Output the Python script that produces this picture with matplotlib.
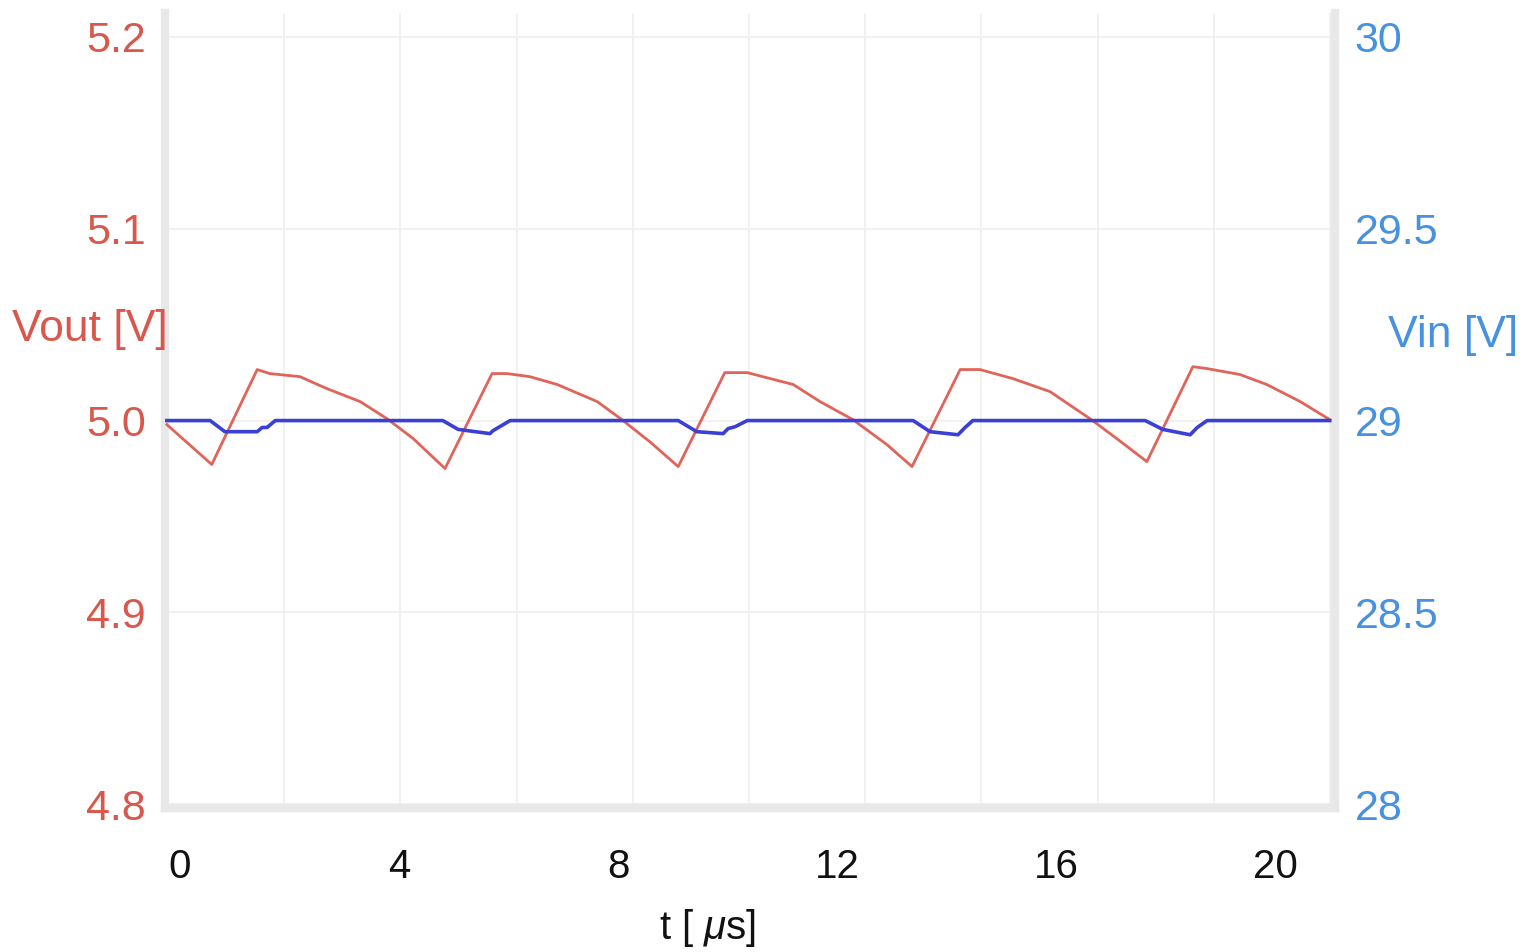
import matplotlib
matplotlib.use("Agg")
import matplotlib.pyplot as plt
import numpy as np

plt.rcParams['font.family'] = ['Liberation Sans', 'DejaVu Sans']
plt.rcParams['mathtext.fontset'] = 'custom'
plt.rcParams['mathtext.it'] = 'Liberation Sans:italic'
plt.rcParams['mathtext.rm'] = 'Liberation Sans'

# output voltage (left axis)
t_out = [-0.24, 0.58, 1.41, 1.64, 2.19, 2.68, 3.29, 3.78, 4.26, 4.84,
         5.70, 5.97, 6.39, 6.89, 7.62, 8.07, 8.58, 9.10,
         9.95, 10.36, 11.20, 11.69, 12.29, 12.91, 13.37,
         14.25, 14.61, 15.21, 15.89, 16.62, 17.11, 17.66,
         18.50, 18.76, 19.36, 19.85, 20.46, 21.00]
v_out = [4.9979, 4.9771, 5.0266, 5.0245, 5.0229, 5.0167, 5.0099, 5.0010, 4.9906, 4.9750,
         5.0245, 5.0245, 5.0229, 5.0188, 5.0099, 5.0005, 4.9890, 4.9760,
         5.0250, 5.0250, 5.0188, 5.0099, 5.0005, 4.9875, 4.9760,
         5.0266, 5.0266, 5.0219, 5.0151, 5.0010, 4.9906, 4.9786,
         5.0281, 5.0271, 5.0240, 5.0188, 5.0099, 5.0005]

# input voltage (right axis)
t_in = [-0.24, 0.55, 0.82, 1.41, 1.50, 1.59, 1.74,
        4.80, 5.08, 5.66, 5.72, 5.84, 6.03,
        9.10, 9.44, 9.92, 10.01, 10.14, 10.36,
        13.39, 13.70, 14.21, 14.34, 14.48,
        17.63, 17.95, 18.45, 18.58, 18.76, 21.00]
v_in = [29.0, 29.0, 28.971, 28.971, 28.982, 28.982, 29.0,
        29.0, 28.977, 28.966, 28.974, 28.984, 29.0,
        29.0, 28.971, 28.966, 28.979, 28.984, 29.0,
        29.0, 28.971, 28.963, 28.982, 29.0,
        29.0, 28.977, 28.963, 28.982, 29.0, 29.0]

x_ticks = [0, 4, 8, 12, 16, 20]
left_ticks = [4.8, 4.9, 5.0, 5.1, 5.2]
left_labels = ["4.8", "4.9", "5.0", "5.1", "5.2"]
right_ticks = [28, 28.5, 29, 29.5, 30]
right_labels = ["28", "28.5", "29", "29.5", "30"]

RED = "#e0645a"
RED_TXT = "#d9584d"
BLUE = "#3a40d4"
BLUE_TXT = "#4692e0"
FRAME = "#e8e8e8"
GRID = "#efefef"

fig = plt.figure(figsize=(15.27, 9.52), dpi=100)
ax = fig.add_axes([165 / 1527, 1 - 808 / 952, 1170 / 1527, 795 / 952])

y0, y1 = 4.798, 5.2125
ax.set_ylim(y0, y1)
ax.set_xlim((165 - 180) / 54.75, (1335 - 180) / 54.75)

# vertical grid: ten equal divisions, not tied to the labelled ticks
gx = np.linspace((168 - 180) / 54.75, (1330 - 180) / 54.75, 11)
ax.set_xticks(gx, minor=True)
ax.set_xticks(x_ticks)
ax.set_xticklabels([str(v) for v in x_ticks], fontsize=29, color="#111111")
ax.set_yticks(left_ticks)
ax.set_yticklabels(left_labels, fontsize=31, color=RED_TXT)
ax.tick_params(axis='x', which='both', length=0, pad=29)
ax.tick_params(axis='y', length=0, pad=14)
ax.grid(True, axis='x', which='minor', color=GRID, lw=1.2)
ax.grid(True, axis='y', which='major', color=GRID, lw=1.2)
ax.set_axisbelow(True)

for side in ['left', 'bottom', 'right']:
    ax.spines[side].set_color(FRAME)
    ax.spines[side].set_linewidth(6)
ax.spines['top'].set_visible(False)

ax.plot(t_out, v_out, color=RED, lw=2.0, zorder=3)

ax2 = ax.twinx()
ax2.set_ylim(29 + (y0 - 5) * 5, 29 + (y1 - 5) * 5)
ax2.set_yticks(right_ticks)
ax2.set_yticklabels(right_labels, fontsize=31, color=BLUE_TXT)
ax2.tick_params(axis='y', length=0, pad=14)
for side in ['left', 'bottom', 'top', 'right']:
    ax2.spines[side].set_visible(False)
ax2.plot(t_in, v_in, color=BLUE, lw=2.6, zorder=2)

fig.text(12 / 1527, 1 - 330 / 952, "Vout [V]", fontsize=32, color=RED_TXT,
         ha='left', va='center')
fig.text(1388 / 1527, 1 - 335 / 952, "Vin [V]", fontsize=32, color=BLUE_TXT,
         ha='left', va='center')
fig.text(708 / 1527, 1 - 928 / 952, r"t [ $\mu$s]", fontsize=29, color="#111111",
         ha='center', va='center')

fig.savefig("out.png", dpi=100, facecolor='white')
